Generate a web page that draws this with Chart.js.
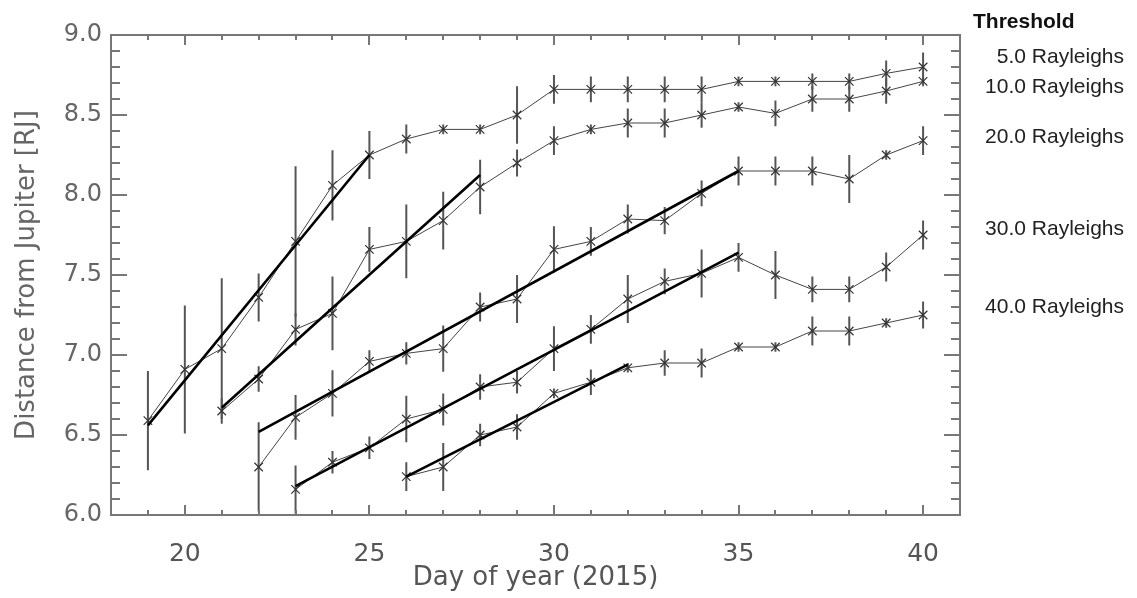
<!DOCTYPE html>
<html>
<head>
<meta charset="utf-8">
<script src="https://cdn.jsdelivr.net/npm/chart.js@4.4.1/dist/chart.umd.min.js"></script>
<style>
  html, body { margin: 0; padding: 0; background: #fff; }
  #wrap { width: 1137px; height: 598px; position: relative; }
</style>
</head>
<body>
<div id="wrap"><canvas id="c" width="1137" height="598"></canvas></div>
<script>
// ---------------- data ----------------
const days = [19,20,21,22,23,24,25,26,27,28,29,30,31,32,33,34,35,36,37,38,39,40];

const r5     = [6.59,6.91,7.04,7.36,7.71,8.06,8.25,8.35,8.41,8.41,8.50,8.66,8.66,8.66,8.66,8.66,8.71,8.71,8.71,8.71,8.76,8.80];
const r5err  = [0.31,0.40,0.44,0.15,0.47,0.22,0.15,0.09,0.03,0.03,0.18,0.09,0.08,0.08,0.08,0.08,0.03,0.03,0.05,0.05,0.08,0.09];

const r10    = [null,null,6.65,6.85,7.16,7.26,7.66,7.71,7.84,8.05,8.20,8.34,8.41,8.45,8.45,8.50,8.55,8.51,8.60,8.60,8.65,8.71];
const r10err = [null,null,0.08,0.08,0.10,0.23,0.14,0.23,0.18,0.17,0.085,0.09,0.03,0.09,0.09,0.08,0.03,0.08,0.08,0.08,0.08,0.03];

const r20    = [null,null,null,6.30,6.61,6.76,6.96,7.01,7.04,7.30,7.35,7.66,7.71,7.85,7.84,8.01,8.15,8.15,8.15,8.10,8.25,8.34];
const r20err = [null,null,null,0.28,0.14,0.145,0.07,0.07,0.145,0.09,0.15,0.145,0.09,0.09,0.085,0.08,0.09,0.09,0.09,0.15,0.03,0.09];

const r30    = [null,null,null,null,6.16,6.33,6.42,6.60,6.66,6.80,6.83,7.04,7.16,7.35,7.46,7.51,7.61,7.50,7.41,7.41,7.55,7.75];
const r30err = [null,null,null,null,0.15,0.07,0.07,0.145,0.10,0.08,0.07,0.14,0.09,0.15,0.08,0.15,0.09,0.15,0.08,0.08,0.09,0.09];

const r40    = [null,null,null,null,null,null,null,6.24,6.30,6.50,6.55,6.76,6.83,6.92,6.95,6.95,7.05,7.05,7.15,7.15,7.20,7.25];
const r40err = [null,null,null,null,null,null,null,0.09,0.15,0.07,0.08,0.03,0.08,0.03,0.08,0.09,0.03,0.03,0.09,0.09,0.03,0.085];

// linear fits (start day, end day, start value, end value) per threshold
const fitFrom    = [19, 21, 22, 23, 26];
const fitTo      = [25, 28, 35, 35, 32];
const fitFromVal = [6.56, 6.67, 6.52, 6.18, 6.24];
const fitToVal   = [8.25, 8.125, 8.15, 7.64, 6.94];

const thresholds = ['5.0', '10.0', '20.0', '30.0', '40.0'];
const yTicks = [6.0, 6.5, 7.0, 7.5, 8.0, 8.5, 9.0];
const xTicks = [20, 25, 30, 35, 40];

// ---------------- build datasets ----------------
const series = [r5, r10, r20, r30, r40];
const errs = [r5err, r10err, r20err, r30err, r40err];

function pts(vals) {
  const out = [];
  days.forEach((d, i) => { if (vals[i] != null) out.push({x: d, y: vals[i]}); });
  return out;
}
function bars(vals, e) {
  const out = [];
  days.forEach((d, i) => {
    if (vals[i] == null) return;
    out.push({x: d, y: vals[i] - e[i]}, {x: d, y: vals[i] + e[i]}, {x: d, y: null});
  });
  return out;
}

const datasets = [];
series.forEach((s, k) => {
  datasets.push({
    data: bars(s, errs[k]), borderColor: '#555', borderWidth: 2,
    pointRadius: 0, spanGaps: false, order: 3
  });
});
series.forEach((s, k) => {
  datasets.push({
    data: pts(s), borderColor: '#444', borderWidth: 1,
    pointStyle: 'crossRot', pointRadius: 6, pointBorderWidth: 1.2,
    pointBorderColor: '#333', pointBackgroundColor: '#333', order: 2
  });
});
fitFrom.forEach((f, k) => {
  datasets.push({
    data: [{x: f, y: fitFromVal[k]}, {x: fitTo[k], y: fitToVal[k]}],
    borderColor: '#000', borderWidth: 2.6, pointRadius: 0, order: 1
  });
});

// ---------------- plugins ----------------
const frame = {
  id: 'frame',
  afterDatasetsDraw(chart) {
    const {ctx, chartArea: {left, right, top, bottom}, scales: {x, y}} = chart;
    ctx.save();
    ctx.strokeStyle = '#777';
    ctx.lineWidth = 2;
    ctx.beginPath();
    for (let d = 18; d <= 41; d++) {
      const px = Math.round(x.getPixelForValue(d));
      const len = d % 5 === 0 ? 10 : 5;
      ctx.moveTo(px, bottom); ctx.lineTo(px, bottom - len);
      ctx.moveTo(px, top); ctx.lineTo(px, top + len);
    }
    for (let i = 60; i <= 90; i++) {
      const py = Math.round(y.getPixelForValue(i / 10));
      const len = i % 5 === 0 ? 16 : 9;
      ctx.moveTo(left, py); ctx.lineTo(left + len, py);
      ctx.moveTo(right, py); ctx.lineTo(right - len, py);
    }
    ctx.stroke();
    ctx.strokeRect(left, top, right - left, bottom - top);
    ctx.restore();
  }
};

const labelLayout = { headX: 973, headY: 22, rightX: 1124, rows: [57, 87, 137, 229, 307] };
const thresholdLabels = {
  id: 'thresholdLabels',
  afterDraw(chart) {
    const ctx = chart.ctx;
    ctx.save();
    ctx.fillStyle = '#111';
    ctx.textBaseline = 'middle';
    ctx.font = 'bold 21px "Liberation Sans", Arial, sans-serif';
    ctx.textAlign = 'left';
    ctx.fillText('Threshold', labelLayout.headX, labelLayout.headY);
    ctx.font = '21px "Liberation Sans", Arial, sans-serif';
    ctx.fillStyle = '#222';
    ctx.textAlign = 'right';
    thresholds.forEach((t, k) => {
      ctx.fillText(t + ' Rayleighs', labelLayout.rightX, labelLayout.rows[k]);
    });
    ctx.restore();
  }
};

// ---------------- chart ----------------
new Chart(document.getElementById('c'), {
  type: 'line',
  data: { datasets },
  options: {
    responsive: false,
    animation: false,
    layout: { padding: { top: 35, right: 177, left: 0, bottom: 0 } },
    plugins: { legend: { display: false }, tooltip: { enabled: false } },
    scales: {
      x: {
        type: 'linear', min: 18, max: 41,
        grid: { display: false, drawTicks: false },
        border: { display: false },
        afterBuildTicks(scale) { scale.ticks = xTicks.map(v => ({value: v})); },
        afterFit(scale) { scale.height = 83; },
        ticks: {
          color: '#555', padding: 24,
          font: { family: 'DejaVu Sans', size: 25 },
          callback: v => String(v)
        },
        title: {
          display: true, text: 'Day of year (2015)', color: '#555',
          font: { family: 'DejaVu Sans', size: 26 },
          padding: { top: 0, bottom: 4 }
        }
      },
      y: {
        type: 'linear', min: 6, max: 9,
        grid: { display: false, drawTicks: false },
        border: { display: false },
        afterBuildTicks(scale) { scale.ticks = yTicks.map(v => ({value: v})); },
        afterFit(scale) { scale.width = 111; },
        ticks: {
          color: '#666', padding: 9,
          font: { family: 'DejaVu Sans', size: 24 },
          callback: v => Number(v).toFixed(1)
        },
        title: {
          display: true, text: 'Distance from Jupiter [RJ]', color: '#666',
          font: { family: 'DejaVu Sans', size: 26 },
          padding: { top: 12, bottom: 0 }
        }
      }
    }
  },
  plugins: [frame, thresholdLabels]
});
</script>
</body>
</html>
